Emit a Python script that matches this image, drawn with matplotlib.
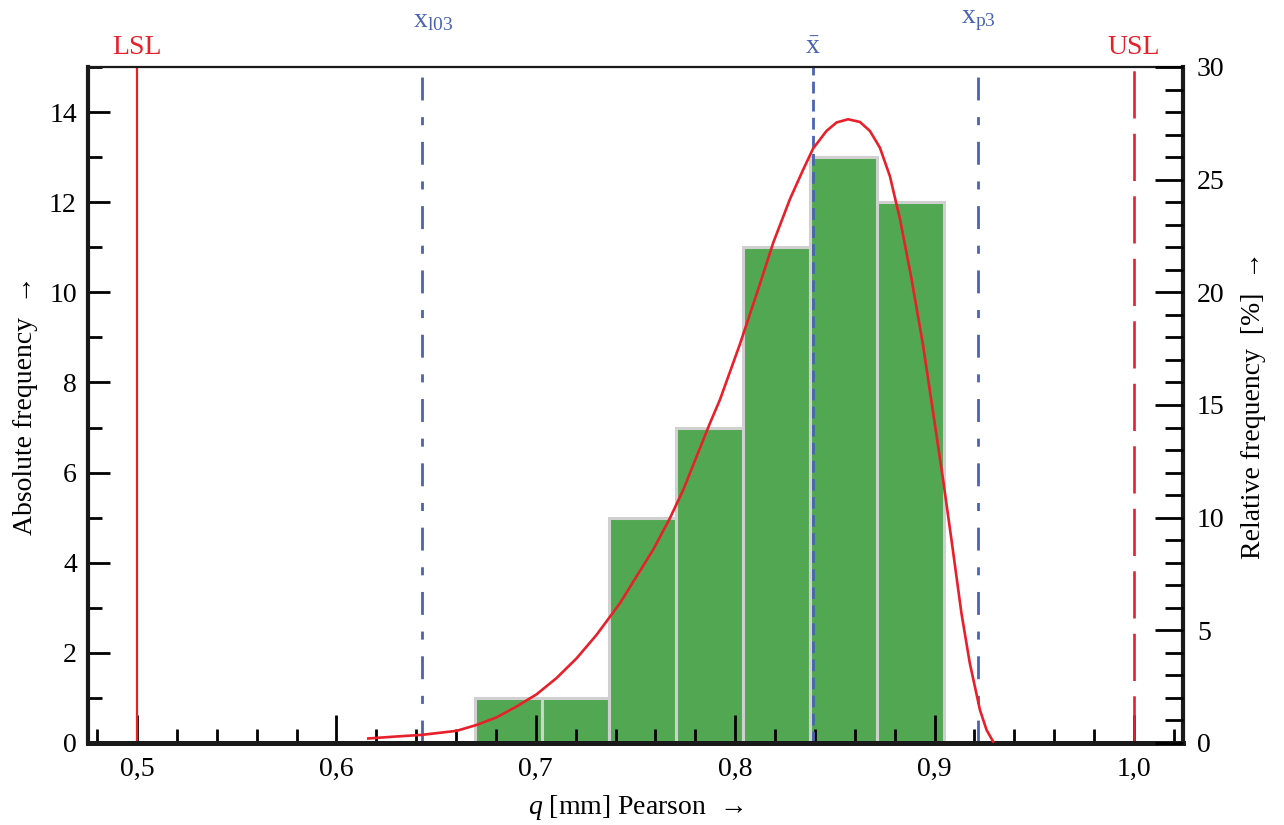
import matplotlib
matplotlib.use("Agg")
import matplotlib.pyplot as plt
from matplotlib.ticker import MultipleLocator, FuncFormatter
import matplotlib.transforms as mtransforms

plt.rcParams['font.family'] = ['Liberation Serif', 'DejaVu Serif']
plt.rcParams['mathtext.fontset'] = 'custom'
plt.rcParams['mathtext.rm'] = 'Liberation Serif'
plt.rcParams['mathtext.it'] = 'Liberation Serif:italic'
plt.rcParams['lines.scale_dashes'] = False

# histogram data
bin_edges = [0.6695, 0.7031, 0.7367, 0.7703, 0.8039, 0.8375, 0.8711, 0.9047]
counts = [1, 1, 5, 7, 11, 13, 12]

# fitted Pearson curve
curve_x = [0.616, 0.6286, 0.6428, 0.6603, 0.6703, 0.6804, 0.6904, 0.7004, 0.7104, 0.7205,
           0.7305, 0.7422, 0.7506, 0.7589, 0.7673, 0.7740, 0.7807, 0.7874, 0.7924, 0.8024,
           0.8124, 0.8191, 0.8275, 0.8342, 0.8391, 0.8458, 0.8509, 0.8567, 0.8626, 0.8676,
           0.8726, 0.8776, 0.8827, 0.8885, 0.8943, 0.8993, 0.9043, 0.9085, 0.9135, 0.9177,
           0.9228, 0.9261, 0.9294]
curve_y = [0.10, 0.14, 0.18, 0.27, 0.40, 0.57, 0.81, 1.08, 1.44, 1.88,
           2.40, 3.10, 3.70, 4.29, 4.99, 5.62, 6.36, 7.10, 7.62, 8.85,
           10.18, 11.10, 12.07, 12.73, 13.19, 13.58, 13.77, 13.84, 13.78, 13.58,
           13.21, 12.58, 11.62, 10.29, 8.81, 7.33, 5.84, 4.51, 2.88, 1.77,
           0.73, 0.29, 0.03]

# limits and characteristic values
lsl = 0.5
usl = 1.0
x_l03 = 0.6429
x_mean = 0.839
x_p3 = 0.9218

RED = '#e8202a'
BLUE = '#4a63b5'
GREEN = '#52a852'
FS = 20

fig = plt.figure(figsize=(12.84, 8.25), dpi=100)
ax = fig.add_axes([0.0685, 0.0994, 0.8528, 0.8194])

widths = [b - a for a, b in zip(bin_edges[:-1], bin_edges[1:])]
ax.bar(bin_edges[:-1], counts, width=widths, align='edge', color=GREEN,
       edgecolor='#d0d0d0', linewidth=2.2, zorder=1)

ax.plot(curve_x, curve_y, color=RED, lw=1.9, zorder=3, solid_joinstyle='round')

ax.axvline(lsl, color=RED, lw=1.6, zorder=2)
ax.axvline(usl, color=RED, lw=1.9, ls=(0, (34, 11)), zorder=2)
ax.axvline(x_l03, ymax=0.985, color=BLUE, lw=2.0, ls=(0, (16.5, 12, 5.8, 12)), zorder=2)
ax.axvline(x_p3, ymax=0.985, color=BLUE, lw=2.0, ls=(0, (16.5, 12, 5.8, 12)), zorder=2)
ax.axvline(x_mean, color=BLUE, lw=2.0, ls=(0, (8.5, 4.5)), zorder=2)

trans = mtransforms.blended_transform_factory(ax.transData, ax.transAxes)
ax.text(lsl, 1.01, 'LSL', color=RED, fontsize=FS, ha='center', va='bottom', transform=trans)
ax.text(usl, 1.01, 'USL', color=RED, fontsize=FS, ha='center', va='bottom', transform=trans)
ax.text(x_mean, 1.01, r'$\bar{\mathrm{x}}$', color=BLUE, fontsize=FS, ha='center', va='bottom', transform=trans)
ax.text(x_l03 + 0.0055, 1.05, r'$\mathrm{x_{l03}}$', color=BLUE, fontsize=FS, ha='center', va='bottom', transform=trans)
ax.text(x_p3, 1.05, r'$\mathrm{x_{p3}}$', color=BLUE, fontsize=FS, ha='center', va='bottom', transform=trans)

ax.set_xlim(0.4754, 1.0246)
ax.set_ylim(0, 15)

ax.xaxis.set_major_locator(MultipleLocator(0.1))
ax.xaxis.set_minor_locator(MultipleLocator(0.02))
ax.xaxis.set_major_formatter(FuncFormatter(lambda v, p: f'{v:.1f}'.replace('.', ',')))
ax.yaxis.set_major_locator(MultipleLocator(2))
ax.yaxis.set_minor_locator(MultipleLocator(1))

ax.tick_params(axis='x', which='major', direction='in', length=20, width=2, labelsize=FS, pad=10)
ax.tick_params(axis='x', which='minor', direction='in', length=10, width=2)
ax.tick_params(axis='y', which='major', direction='in', length=16, width=2, labelsize=FS, pad=8)
ax.tick_params(axis='y', which='minor', direction='in', length=10, width=2)

for side in ['left', 'right']:
    ax.spines[side].set_linewidth(3)
ax.spines['bottom'].set_linewidth(3.6)
ax.spines['top'].set_linewidth(1.6)
for s in ax.spines.values():
    s.set_color('#1a1a1a')

ax.set_xlabel(r'$q$ [mm] Pearson  →', fontsize=FS, labelpad=8)
ax.set_ylabel('Absolute frequency  →', fontsize=FS, labelpad=8)

ax2 = ax.twinx()
ax2.set_ylim(0, 30)
ax2.yaxis.set_major_locator(MultipleLocator(5))
ax2.yaxis.set_minor_locator(MultipleLocator(1))
ax2.tick_params(axis='y', which='major', direction='in', length=20, width=2, labelsize=FS, pad=10)
ax2.tick_params(axis='y', which='minor', direction='in', length=13, width=2)
for s in ax2.spines.values():
    s.set_visible(False)
ax2.set_ylabel('Relative frequency  [%]  →', fontsize=FS, labelpad=12)

fig.savefig('out.png', dpi=100)
